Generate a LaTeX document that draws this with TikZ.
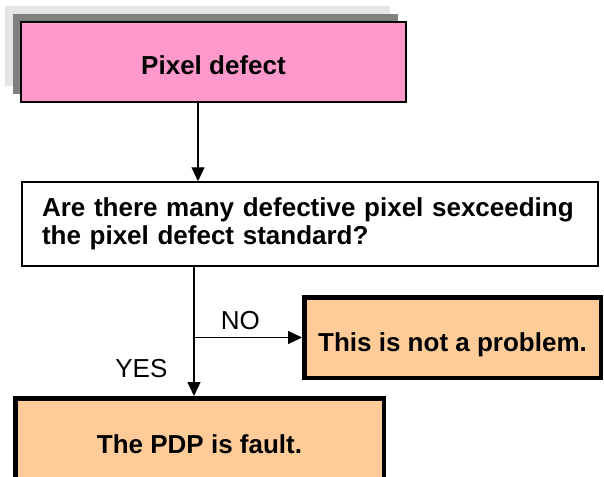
\documentclass[tikz,border=0pt]{standalone}
\usepackage{fontspec}
\setmainfont{Liberation Sans}
\usetikzlibrary{arrows.meta,shadows}

\definecolor{defectpink}{HTML}{FF99CC}
\definecolor{resultorange}{HTML}{FFCC99}
\definecolor{shadelight}{HTML}{E5E5E5}
\definecolor{shadedark}{HTML}{808080}

\begin{document}
\begin{tikzpicture}[x=1pt, y=-1pt,
	font=\fontsize{26}{28}\selectfont,
	flow/.style={line width=1.2pt, -{Triangle[length=14pt,width=13pt]}},
	start/.style={draw, line width=1.2pt, fill=defectpink, font=\bfseries\fontsize{26}{28}\selectfont,
		minimum width=385pt, minimum height=80pt, text height=26pt, text depth=0pt,
		general shadow={fill=shadelight, shadow xshift=-16pt, shadow yshift=16pt},
		general shadow={fill=shadedark, shadow xshift=-8pt, shadow yshift=8pt}},
	query/.style={draw, line width=1.5pt, fill=white, font=\bfseries\fontsize{26}{28}\selectfont,
		minimum width=576pt, minimum height=84pt, text width=536pt, inner xsep=20pt, align=left},
	result/.style={draw, line width=4.5pt, fill=resultorange, font=\bfseries\fontsize{26}{28}\selectfont,
		text height=28pt, text depth=0pt},
	answer/.style={inner sep=0pt}]
	\useasboundingbox (0,0) rectangle (604,476);

	\node[start] (defect) at (213.5,62) {Pixel defect};
	\node[query] (query) at (310,224) {Are there many defective pixel sexceeding\\the pixel defect standard?};
	\node[result, minimum width=296.5pt, minimum height=80.5pt] (ok) at (452.5,337.5) {This is not a problem.};
	\node[result, minimum width=368.5pt, minimum height=81.5pt] (fault) at (199.5,439) {The PDP is fault.};
	\coordinate (split) at (194,337.5);

	\draw[flow] ([xshift=-15.5pt]defect.south) -- ([xshift=-15.5pt]defect.south |- query.north);
	\draw[flow] (split |- query.south) -- node[answer, pos=0.786, left=26pt] {YES} (split |- fault.north);
	\draw[flow] (split) -- node[answer, pos=0.43, above=7pt] {NO} (ok.west);
\end{tikzpicture}
\end{document}
